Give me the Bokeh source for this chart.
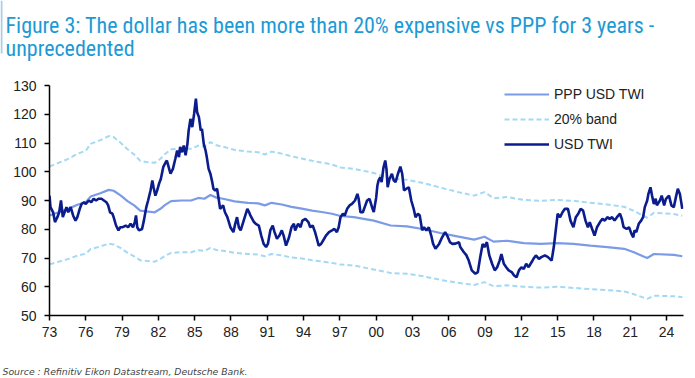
from bokeh.plotting import figure
from bokeh.layouts import column
from bokeh.models import Legend, LegendItem, FixedTicker, Range1d, Label, BoxAnnotation
from bokeh.embed import file_html
from bokeh.resources import INLINE

# ---------------- data ----------------
x_tick_years = [1973, 1976, 1979, 1982, 1985, 1988, 1991, 1994, 1997,
                2000, 2003, 2006, 2009, 2012, 2015, 2018, 2021, 2024]
x_tick_labels = ["73", "76", "79", "82", "85", "88", "91", "94", "97",
                 "00", "03", "06", "09", "12", "15", "18", "21", "24"]
y_ticks = [50, 60, 70, 80, 90, 100, 110, 120, 130]

twi_year = [
    1973.0, 1973.08, 1973.3, 1973.45, 1973.65, 1973.8, 1973.95, 1974.1, 1974.3, 1974.4,
    1974.55, 1974.75, 1974.95, 1975.15, 1975.3, 1975.5, 1975.65, 1975.85, 1976.0, 1976.25,
    1976.45, 1976.65, 1976.85, 1977.05, 1977.3, 1977.5, 1977.7, 1977.85, 1978.0, 1978.2,
    1978.3, 1978.5, 1978.7, 1978.85, 1979.05, 1979.3, 1979.5, 1979.7, 1979.9, 1980.05,
    1980.15, 1980.25, 1980.4, 1980.65, 1980.8, 1981.0, 1981.15, 1981.35, 1981.5, 1981.6,
    1981.75, 1981.9, 1982.05, 1982.2, 1982.4, 1982.6, 1982.7, 1982.85, 1983.0, 1983.2,
    1983.4, 1983.55, 1983.7, 1983.8, 1983.95, 1984.1, 1984.25, 1984.4, 1984.5, 1984.65,
    1984.8, 1984.95, 1985.1, 1985.2, 1985.35, 1985.5, 1985.6, 1985.75, 1985.9, 1986.0,
    1986.15, 1986.3, 1986.45, 1986.55, 1986.7, 1986.85, 1987.0, 1987.1, 1987.35, 1987.5,
    1987.7, 1987.95, 1988.2, 1988.35, 1988.5, 1988.65, 1988.8, 1989.05, 1989.35, 1989.5,
    1989.6, 1989.9, 1990.05, 1990.3, 1990.5, 1990.7, 1990.9, 1991.05, 1991.25, 1991.45,
    1991.6, 1991.8, 1992.0, 1992.2, 1992.35, 1992.55, 1992.8, 1993.0, 1993.2, 1993.3,
    1993.55, 1993.75, 1993.9, 1994.15, 1994.4, 1994.55, 1994.75, 1994.95, 1995.1, 1995.25,
    1995.45, 1995.7, 1995.85, 1996.1, 1996.35, 1996.55, 1996.75, 1996.9, 1997.05, 1997.25,
    1997.4, 1997.6, 1997.8, 1998.0, 1998.25, 1998.45, 1998.55, 1998.7, 1998.9, 1999.05,
    1999.25, 1999.45, 1999.7, 1999.8, 2000.0, 2000.1, 2000.2, 2000.35, 2000.45, 2000.6,
    2000.75, 2000.85, 2000.95, 2001.1, 2001.3, 2001.45, 2001.6, 2001.8, 2002.0, 2002.15,
    2002.3, 2002.5, 2002.7, 2002.9, 2003.1, 2003.25, 2003.45, 2003.6, 2003.8, 2003.95,
    2004.15, 2004.35, 2004.55, 2004.7, 2004.9, 2005.2, 2005.45, 2005.7, 2005.9, 2006.1,
    2006.3, 2006.55, 2006.85, 2006.95, 2007.25, 2007.45, 2007.65, 2007.9, 2008.2, 2008.4,
    2008.6, 2008.8, 2008.95, 2009.15, 2009.35, 2009.58, 2009.8, 2010.0, 2010.2, 2010.35,
    2010.55, 2010.75, 2010.95, 2011.2, 2011.4, 2011.6, 2011.8, 2012.0, 2012.2, 2012.4,
    2012.6, 2012.85, 2013.0, 2013.2, 2013.45, 2013.65, 2013.95, 2014.2, 2014.5, 2014.68,
    2014.87, 2015.0, 2015.2, 2015.4, 2015.6, 2015.85, 2016.06, 2016.3, 2016.5, 2016.7,
    2016.9, 2017.1, 2017.3, 2017.5, 2017.65, 2017.85, 2018.05, 2018.25, 2018.5, 2018.7,
    2018.9, 2019.1, 2019.3, 2019.5, 2019.7, 2019.9, 2020.15, 2020.3, 2020.45, 2020.7,
    2020.9, 2021.1, 2021.25, 2021.35, 2021.5, 2021.7, 2021.9, 2022.06, 2022.2, 2022.4,
    2022.5, 2022.67, 2022.8, 2022.95, 2023.1, 2023.2, 2023.45, 2023.6, 2023.8, 2023.95,
    2024.2, 2024.4, 2024.6, 2024.8, 2024.93, 2025.1, 2025.3]
twi_value = [
    91.7, 87.7, 85.9, 82.5, 84.2, 85.9, 90.0, 84.2, 86.5, 87.7,
    85.9, 87.7, 84.8, 83.0, 84.2, 87.1, 88.8, 89.4, 88.8, 90.0,
    89.4, 90.6, 90.0, 90.6, 90.6, 90.0, 89.4, 88.3, 85.9, 85.4,
    84.2, 81.3, 79.6, 80.7, 80.7, 81.3, 80.7, 81.9, 80.7, 82.5,
    84.8, 80.7, 79.6, 80.1, 83.0, 87.7, 90.0, 93.5, 97.0, 94.6,
    91.7, 93.5, 95.8, 97.5, 101.6, 103.3, 103.9, 101.6, 99.3, 101.0,
    104.5, 107.4, 105.1, 108.6, 106.8, 109.1, 105.7, 109.7, 114.3, 118.4,
    115.5, 120.1, 125.4, 120.7, 119.0, 114.3, 114.9, 109.7, 107.4, 105.1,
    101.0, 99.3, 96.4, 94.1, 93.5, 94.1, 90.0, 87.1, 88.3, 85.9,
    84.2, 80.7, 79.0, 81.9, 84.2, 80.7, 79.6, 83.0, 87.1, 85.9,
    84.8, 82.5, 81.9, 81.3, 77.8, 74.9, 73.8, 74.9, 79.6, 81.3,
    79.0, 76.7, 77.8, 79.6, 77.8, 74.3, 77.2, 80.7, 81.9, 79.6,
    81.9, 80.7, 83.0, 83.6, 82.5, 80.7, 81.3, 79.0, 76.7, 74.3,
    74.9, 76.7, 77.8, 79.0, 79.6, 80.1, 79.0, 80.7, 84.2, 85.4,
    84.8, 87.1, 88.3, 88.8, 90.0, 92.3, 90.6, 85.9, 85.9, 87.7,
    90.0, 90.6, 87.1, 86.0, 91.0, 95.2, 97.0, 98.1, 96.4, 101.4,
    103.9, 101.0, 94.6, 97.5, 99.3, 97.0, 96.4, 99.3, 101.8, 99.3,
    93.5, 94.1, 94.6, 90.0, 87.1, 84.2, 85.4, 84.8, 79.6, 80.7,
    79.6, 80.7, 77.8, 75.0, 73.2, 74.9, 77.2, 79.0, 77.5, 75.5,
    74.9, 75.0, 75.5, 73.8, 72.0, 71.0, 69.1, 65.7, 64.5, 65.1,
    70.3, 74.9, 73.8, 75.5, 70.9, 68.0, 65.7, 66.8, 69.1, 71.4,
    68.0, 66.8, 65.7, 65.1, 63.9, 63.3, 65.7, 66.8, 66.2, 68.0,
    66.8, 68.6, 69.7, 70.9, 69.7, 70.3, 70.9, 70.3, 69.1, 73.8,
    80.7, 85.4, 84.2, 85.9, 87.1, 87.1, 83.0, 80.7, 84.2, 85.4,
    87.1, 86.5, 83.0, 80.7, 82.5, 80.1, 77.8, 80.7, 82.5, 83.6,
    83.0, 84.2, 83.6, 84.2, 83.0, 84.2, 85.4, 83.6, 80.7, 80.1,
    80.7, 78.4, 77.2, 79.6, 79.0, 81.9, 83.0, 84.2, 87.7, 90.0,
    92.3, 94.6, 91.7, 88.8, 90.6, 88.3, 90.0, 91.7, 88.3, 90.6,
    91.7, 88.3, 87.7, 91.7, 94.1, 92.3, 87.1]

ppp_year = [
    1973.0, 1974.5, 1975.3, 1976.0, 1976.4, 1977.2, 1977.9, 1978.3, 1978.9, 1979.45,
    1980.0, 1980.5, 1981.0, 1981.7, 1982.2, 1982.5, 1983.05, 1983.9, 1984.7, 1985.3,
    1985.8, 1986.3, 1986.8, 1987.35, 1988.3, 1989.4, 1990.25, 1990.8, 1991.35, 1992.2,
    1993.0, 1993.85, 1994.7, 1995.5, 1996.35, 1997.05, 1998.15, 1999.8, 2001.2, 2002.55,
    2003.95, 2005.3, 2006.7, 2008.1, 2008.95, 2009.7, 2010.8, 2012.2, 2013.6, 2014.95,
    2016.3, 2017.7, 2019.1, 2020.5, 2021.3, 2022.1, 2022.4, 2022.95, 2024.6, 2025.3]
ppp_value = [
    84.8, 87.0, 88.5, 89.4, 91.4, 92.5, 93.7, 93.4, 91.7, 89.8,
    88.3, 86.5, 86.2, 85.9, 87.2, 88.3, 89.8, 90.0, 90.0, 90.9,
    90.6, 91.9, 91.0, 90.6, 89.7, 89.2, 89.0, 88.3, 89.2, 88.6,
    87.8, 87.2, 86.5, 86.0, 85.4, 84.6, 84.2, 83.0, 81.3, 81.0,
    80.0, 78.7, 77.5, 76.4, 77.4, 75.7, 76.0, 75.2, 74.9, 75.2,
    74.9, 74.3, 73.8, 73.2, 72.0, 70.5, 70.0, 71.4, 71.1, 70.6]
band_upper = [
    101.8, 104.4, 106.2, 107.3, 109.7, 111.0, 112.4, 112.1, 110.0, 107.8,
    106.0, 103.8, 103.4, 103.1, 104.6, 106.0, 107.8, 108.0, 108.0, 109.1,
    108.7, 110.3, 109.2, 108.7, 107.6, 107.0, 106.8, 106.0, 107.0, 106.3,
    105.4, 104.6, 103.8, 103.2, 102.5, 101.5, 101.0, 99.6, 97.6, 97.2,
    96.0, 94.5, 93.0, 91.7, 92.9, 90.8, 91.2, 90.2, 89.9, 90.2,
    89.9, 89.2, 88.6, 87.8, 86.4, 84.6, 84.0, 85.7, 85.3, 84.7]
band_lower = [
    67.8, 69.6, 70.8, 71.5, 73.1, 74.0, 75.0, 74.7, 73.4, 71.8,
    70.6, 69.2, 69.0, 68.7, 69.8, 70.6, 71.8, 72.0, 72.0, 72.7,
    72.5, 73.5, 72.8, 72.5, 71.8, 71.4, 71.2, 70.6, 71.4, 70.9,
    70.2, 69.8, 69.2, 68.8, 68.3, 67.7, 67.4, 66.0, 64.8, 64.5,
    63.6, 62.4, 61.4, 60.6, 61.6, 60.2, 60.5, 60.0, 59.7, 60.0,
    59.6, 59.2, 58.8, 58.4, 57.4, 56.2, 55.8, 56.9, 56.7, 56.4]

title_line1 = "Figure 3: The dollar has been more than 20% expensive vs PPP for 3 years -"
title_line2 = "unprecedented"
source_text = "Source : Refinitiv Eikon Datastream, Deutsche Bank."

# ---------------- styling ----------------
C_TWI = "#0b1c8c"
C_PPP = "#7b9be6"
C_BAND = "#a4d9f4"
C_TITLE = "#1b9ad6"
FONT = "'Liberation Sans', Arial, sans-serif"
TFONT = "'Liberation Sans Narrow', 'Arial Narrow', 'Roboto Condensed', sans-serif"

W = 695
HEAD_H, MAIN_H, FOOT_H = 75, 270, 33          # 75 + 270 + 33 = 378
LEFT, RIGHT, TOP, BOTTOM = 49, 12, 10, 30     # frame: x 49..683, y 85..315 on the page


def text_panel(height):
    """A figure without axes whose data units are the panel's own pixels (y down)."""
    f = figure(width=W, height=height, output_backend="svg", toolbar_location=None,
               title_location=None, x_axis_location=None, y_axis_location=None,
               x_range=Range1d(0, W), y_range=Range1d(height, 0),
               min_border_left=0, min_border_right=0, min_border_top=0, min_border_bottom=0,
               frame_align=False)
    f.outline_line_color = None
    f.background_fill_color = "white"
    f.border_fill_color = "white"
    f.grid.visible = False
    return f


# ---- header with the title ----
head = text_panel(HEAD_H)
head.add_layout(BoxAnnotation(left=0, right=2, top=0, bottom=53,
                              fill_color="#a9cde8", fill_alpha=1, line_color=None))
head.add_layout(Label(x=5, y=25, text=title_line1, text_font=TFONT, text_font_size="22px",
                      text_color=C_TITLE, text_baseline="alphabetic"))
head.add_layout(Label(x=5, y=48, text=title_line2, text_font=TFONT, text_font_size="22px",
                      text_color=C_TITLE, text_baseline="alphabetic"))

# ---- main chart ----
p = figure(width=W, height=MAIN_H, output_backend="svg", toolbar_location=None,
           title_location=None, frame_align=False,
           x_range=Range1d(1973, 2025.4), y_range=Range1d(50, 130),
           min_border_left=LEFT, min_border_right=RIGHT,
           min_border_top=TOP, min_border_bottom=BOTTOM)
p.outline_line_color = None
p.background_fill_color = "white"
p.border_fill_color = "white"
p.xgrid.visible = False
p.ygrid.visible = False

r_up = p.line(ppp_year, band_upper, line_color=C_BAND, line_width=2, line_dash="5 3")
r_lo = p.line(ppp_year, band_lower, line_color=C_BAND, line_width=2, line_dash="5 3")
r_ppp = p.line(ppp_year, ppp_value, line_color=C_PPP, line_width=2.2)
r_twi = p.line(twi_year, twi_value, line_color=C_TWI, line_width=2.6)

p.xaxis.ticker = FixedTicker(ticks=x_tick_years)
p.xaxis.major_label_overrides = {y: l for y, l in zip(x_tick_years, x_tick_labels)}
p.yaxis.ticker = FixedTicker(ticks=y_ticks)
for ax in (p.xaxis[0], p.yaxis[0]):
    ax.axis_line_color = "#000000"
    ax.axis_line_width = 1.5
    ax.major_tick_line_color = "#000000"
    ax.major_tick_line_width = 1.5
    ax.major_tick_in = 0
    ax.major_tick_out = 5
    ax.minor_tick_line_color = None
    ax.major_label_text_font = FONT
    ax.major_label_text_font_size = "14px"
    ax.major_label_text_color = "#222222"
p.xaxis.major_label_standoff = 6
p.yaxis.major_label_standoff = 8

frame_h = MAIN_H - TOP - BOTTOM
legend = Legend(items=[
    LegendItem(label="PPP USD TWI", renderers=[r_ppp]),
    LegendItem(label="20% band", renderers=[r_up]),
    LegendItem(label="USD TWI", renderers=[r_twi]),
], location=(504 - LEFT, frame_h - 67))
legend.border_line_color = None
legend.background_fill_alpha = 0
legend.padding = 0
legend.margin = 0
legend.spacing = 9
legend.glyph_width = 45
legend.glyph_height = 14
legend.label_height = 14
legend.label_standoff = 5
legend.label_text_font = FONT
legend.label_text_font_size = "14px"
legend.label_text_color = "#222222"
p.add_layout(legend)

# ---- footer with the source ----
foot = text_panel(FOOT_H)
foot.add_layout(Label(x=2, y=26, text=source_text, text_font="'DejaVu Sans', sans-serif",
                      text_font_size="9.3px", text_font_style="italic",
                      text_color="#444444", text_baseline="alphabetic"))

layout = column(head, p, foot, spacing=0)
open("out.html", "w").write(file_html(layout, INLINE))
